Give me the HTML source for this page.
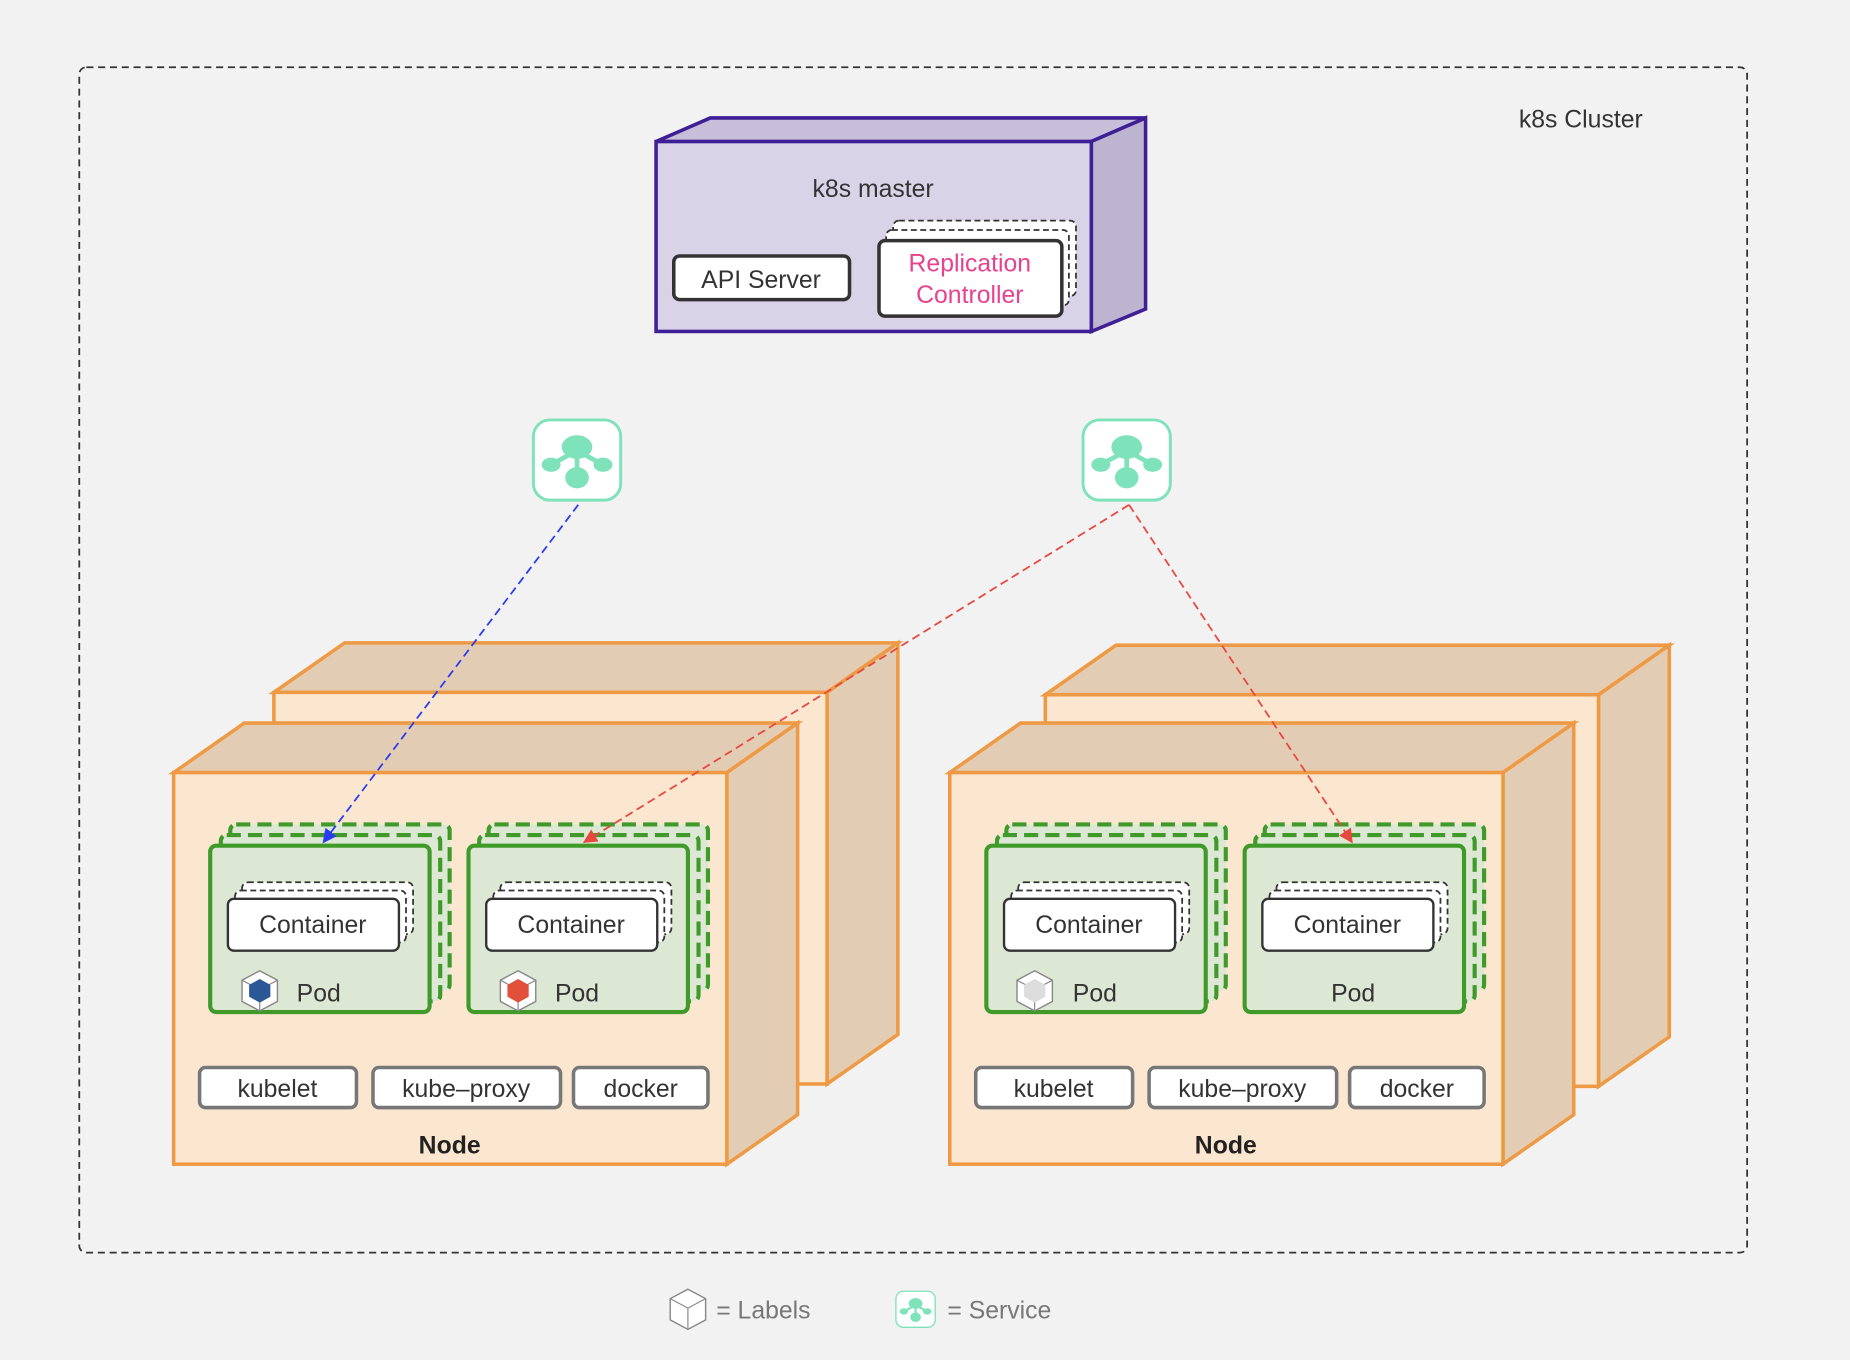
<!DOCTYPE html>
<html><head><meta charset="utf-8"><style>
html,body{margin:0;padding:0;background:#f2f2f2}
svg{display:block}
text{font-family:"Liberation Sans",sans-serif}
</style></head><body>
<svg width="1850" height="1360" viewBox="0 0 1568 1153" xmlns="http://www.w3.org/2000/svg">
<defs>
<marker id="ab" viewBox="0 0 10 10" refX="9" refY="5" markerWidth="8" markerHeight="8" orient="auto"><path d="M0,0 L10,5 L0,10 z" fill="#2b3cf0"/></marker>
<marker id="ar" viewBox="0 0 10 10" refX="9" refY="5" markerWidth="8" markerHeight="8" orient="auto"><path d="M0,0 L10,5 L0,10 z" fill="#e8473f"/></marker>
<g id="cube">
<path d="M0,0 L60,-42 L529,-42 L469,0 Z" fill="#e2ccb3" stroke="#ee9a45" stroke-width="3"/>
<path d="M469,0 L529,-42 L529,290 L469,332 Z" fill="#e2ccb3" stroke="#ee9a45" stroke-width="3"/>
<rect x="0" y="0" width="469" height="332" fill="#fbe6cf" stroke="#ee9a45" stroke-width="3"/>
</g>
<g id="cont">
<rect x="12" y="-14" width="145" height="44" rx="5" fill="#fff" stroke="#333" stroke-width="1.5" stroke-dasharray="5,3"/>
<rect x="6" y="-7" width="145" height="44" rx="5" fill="#fff" stroke="#333" stroke-width="1.5" stroke-dasharray="5,3"/>
<rect x="0" y="0" width="145" height="44" rx="5" fill="#fff" stroke="#333" stroke-width="2"/>
<text x="72" y="29" font-size="21" text-anchor="middle" fill="#333">Container</text>
</g>
<g id="pod">
<rect x="17" y="-18" width="186" height="141" rx="5" fill="#dce8d4" stroke="#3f9a2a" stroke-width="3.5" stroke-dasharray="12,6"/>
<rect x="9" y="-9" width="186" height="141" rx="5" fill="#dce8d4" stroke="#3f9a2a" stroke-width="3.5" stroke-dasharray="12,6"/>
<rect x="0" y="0" width="186" height="141" rx="5" fill="#dce8d4" stroke="#3f9a2a" stroke-width="3.5"/>
<use href="#cont" x="15" y="45"/>
</g>
<g id="svcs">
<rect x="0" y="0" width="133" height="34" rx="5" fill="#fff" stroke="#777" stroke-width="3"/>
<text x="66" y="25" font-size="21" text-anchor="middle" fill="#333">kubelet</text>
<rect x="147" y="0" width="159" height="34" rx="5" fill="#fff" stroke="#777" stroke-width="3"/>
<text x="226" y="25" font-size="21" text-anchor="middle" fill="#333">kube–proxy</text>
<rect x="317" y="0" width="114" height="34" rx="5" fill="#fff" stroke="#777" stroke-width="3"/>
<text x="374" y="25" font-size="21" text-anchor="middle" fill="#333">docker</text>
</g>
<g id="svc">
<rect x="-37" y="-34" width="74" height="68" rx="14" fill="#fff" stroke="#7ee2bb" stroke-width="2.5"/>
<line x1="0" y1="-12" x2="0" y2="14" stroke="#7ee2bb" stroke-width="4"/>
<line x1="0" y1="-8" x2="-22" y2="4" stroke="#7ee2bb" stroke-width="4"/>
<line x1="0" y1="-8" x2="22" y2="4" stroke="#7ee2bb" stroke-width="4"/>
<ellipse cx="0" cy="-11" rx="13" ry="10" fill="#7ee2bb"/>
<ellipse cx="-22" cy="4" rx="8" ry="6" fill="#7ee2bb"/>
<ellipse cx="22" cy="4" rx="8" ry="6" fill="#7ee2bb"/>
<ellipse cx="0" cy="15" rx="10" ry="9" fill="#7ee2bb"/>
</g>
<g id="lbl">
<path d="M0,-17 L15,-9 L15,9 L0,17 L-15,9 L-15,-9 Z" fill="#fff" stroke="#888" stroke-width="1.2"/>
<path d="M-15,-9 L0,-1 L15,-9 M0,-1 L0,17" fill="none" stroke="#888" stroke-width="1"/>
</g>
</defs>

<rect x="67" y="57" width="1414" height="1005" rx="6" fill="none" stroke="#333" stroke-width="1.5" stroke-dasharray="6,4"/>
<text x="1340" y="108" font-size="21" text-anchor="middle" fill="#333">k8s Cluster</text>

<!-- master -->
<path d="M556,120 L602,100 L971,100 L925,120 Z" fill="#c7bfd9" stroke="#3f1f96" stroke-width="3"/>
<path d="M925,120 L971,100 L971,262 L925,281 Z" fill="#bdb5cf" stroke="#3f1f96" stroke-width="3"/>
<rect x="556" y="120" width="369" height="161" fill="#d9d3e8" stroke="#3f1f96" stroke-width="3"/>
<text x="740" y="167" font-size="21" text-anchor="middle" fill="#333">k8s master</text>
<rect x="571" y="217" width="149" height="37" rx="5" fill="#fff" stroke="#333" stroke-width="3"/>
<text x="645" y="244" font-size="21" text-anchor="middle" fill="#333">API Server</text>
<rect x="757" y="187" width="155" height="64" rx="5" fill="#fff" stroke="#333" stroke-width="1.5" stroke-dasharray="5,3"/>
<rect x="751" y="195" width="155" height="64" rx="5" fill="#fff" stroke="#333" stroke-width="1.5" stroke-dasharray="5,3"/>
<rect x="745" y="204" width="155" height="64" rx="5" fill="#fff" stroke="#333" stroke-width="3"/>
<text x="822" y="230" font-size="21" text-anchor="middle" fill="#e8418e">Replication</text>
<text x="822" y="257" font-size="21" text-anchor="middle" fill="#e8418e">Controller</text>

<!-- nodes -->
<use href="#cube" x="232" y="587"/>
<use href="#cube" x="147" y="655"/>
<use href="#cube" x="886" y="589"/>
<use href="#cube" x="805" y="655"/>

<use href="#pod" x="178" y="717"/>
<use href="#pod" x="397" y="717"/>
<use href="#pod" x="836" y="717"/>
<use href="#pod" x="1055" y="717"/>

<text x="270" y="849" font-size="21" text-anchor="middle" fill="#333">Pod</text>
<text x="489" y="849" font-size="21" text-anchor="middle" fill="#333">Pod</text>
<text x="928" y="849" font-size="21" text-anchor="middle" fill="#333">Pod</text>
<text x="1147" y="849" font-size="21" text-anchor="middle" fill="#333">Pod</text>
<use href="#lbl" x="220" y="840"/>
<path d="M220,-0 " />
<g transform="translate(220,840)"><path d="M0,-10 L9,-5 L9,5 L0,10 L-9,5 L-9,-5 Z" fill="#2b5797"/></g>
<use href="#lbl" x="439" y="840"/>
<g transform="translate(439,840)"><path d="M0,-10 L9,-5 L9,5 L0,10 L-9,5 L-9,-5 Z" fill="#e0503a"/></g>
<use href="#lbl" x="877" y="840"/>
<g transform="translate(877,840)"><path d="M0,-10 L9,-5 L9,5 L0,10 L-9,5 L-9,-5 Z" fill="#ddd"/></g>

<use href="#svcs" x="169" y="905"/>
<use href="#svcs" x="827" y="905"/>
<text x="381" y="978" font-size="21" font-weight="bold" text-anchor="middle" fill="#222">Node</text>
<text x="1039" y="978" font-size="21" font-weight="bold" text-anchor="middle" fill="#222">Node</text>

<use href="#svc" x="489" y="390"/>
<use href="#svc" x="955" y="390"/>

<line x1="490" y1="428" x2="274" y2="714" stroke="#2b3cf0" stroke-width="1.5" stroke-dasharray="7,4" marker-end="url(#ab)"/>
<line x1="957" y1="428" x2="495" y2="714" stroke="#e8473f" stroke-width="1.5" stroke-dasharray="7,4" marker-end="url(#ar)"/>
<line x1="957" y1="428" x2="1146" y2="714" stroke="#e8473f" stroke-width="1.5" stroke-dasharray="7,4" marker-end="url(#ar)"/>

<!-- legend -->
<use href="#lbl" x="583" y="1110"/>
<text x="607" y="1118" font-size="21" fill="#777">= Labels</text>
<g transform="translate(776,1110) scale(0.45)"><use href="#svc"/></g>
<text x="803" y="1118" font-size="21" fill="#777">= Service</text>
</svg>
</body></html>
